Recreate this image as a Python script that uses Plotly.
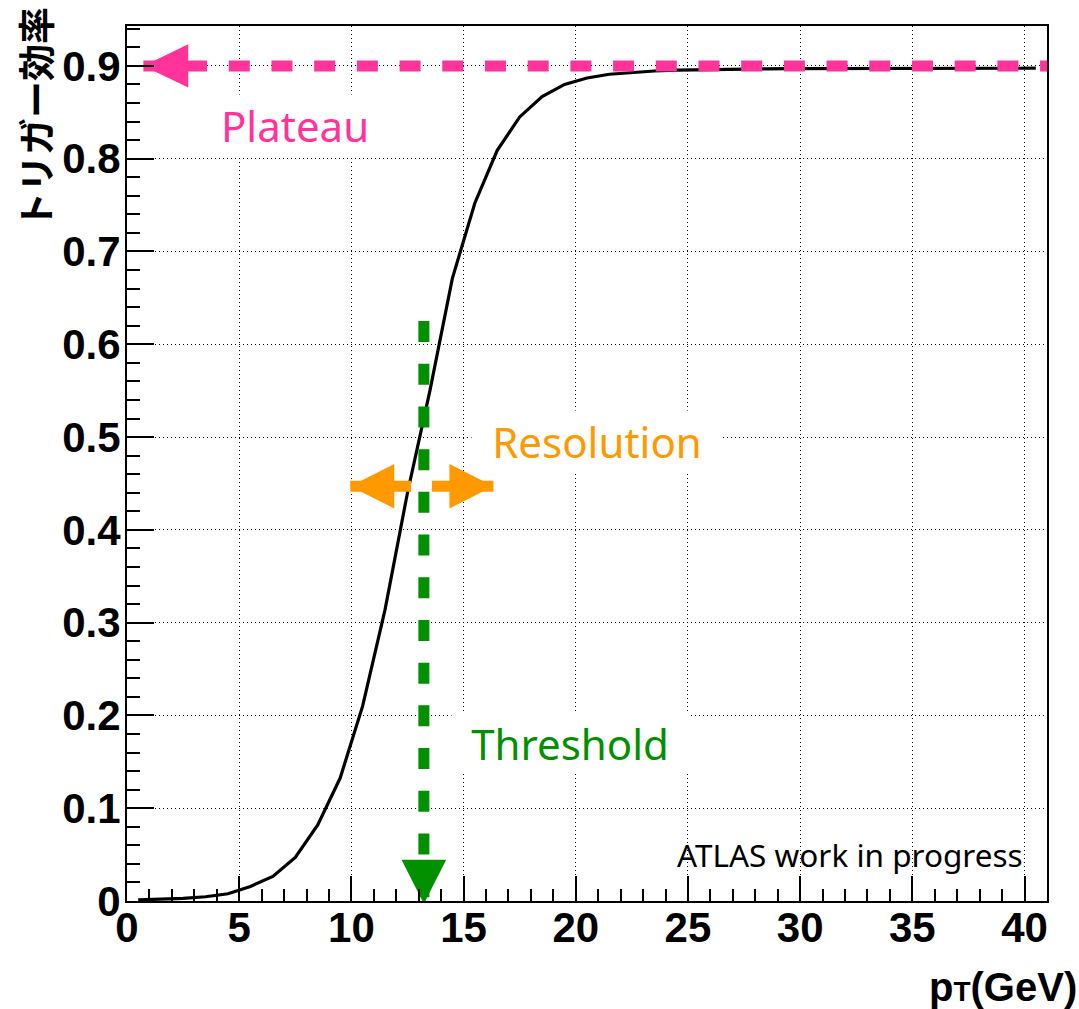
import plotly.graph_objects as go

# ---- data ----
pt = [0.5 + i for i in range(41)]
eff = [0.0012, 0.0018, 0.0028, 0.0046, 0.0078, 0.0157, 0.0265, 0.047, 0.082, 0.1325,
       0.21, 0.314, 0.44, 0.55, 0.671, 0.752, 0.809, 0.845, 0.867, 0.880,
       0.887, 0.891, 0.893, 0.8945, 0.8955, 0.896, 0.8963, 0.8966, 0.8968, 0.897,
       0.897, 0.8971, 0.8972, 0.8972, 0.8973, 0.8973, 0.8974, 0.8974, 0.8975, 0.8975, 0.8975]

x_ticks = [0, 5, 10, 15, 20, 25, 30, 35, 40]
y_ticks = [0, 0.1, 0.2, 0.3, 0.4, 0.5, 0.6, 0.7, 0.8, 0.9]

plateau_eff = 0.9
plateau_x = [0.73, 41.0]          # arrow tip -> right edge
threshold_pt = 13.23
threshold_eff = [0.625, 0.0]      # dashed line top -> arrow tip
resolution_eff = 0.447
resolution_left = [9.95, 12.66]   # tip -> shaft end
resolution_right = [16.33, 13.59] # tip -> shaft end

PINK = "#ff3399"
GREEN = "#009000"
ORANGE = "#ff9900"

fig = go.Figure()

# efficiency curve
fig.add_trace(go.Scatter(x=pt, y=eff, mode="lines",
                         line=dict(color="black", width=3.2), hoverinfo="skip"))

# --- plateau arrow (dashed, head on the left) ---
fig.add_trace(go.Scatter(x=plateau_x, y=[plateau_eff, plateau_eff], mode="lines",
                         line=dict(color=PINK, width=11, dash="21px,21.7px")))
hl_x, hh_y = 2.0, 0.0234
tip = plateau_x[0]
fig.add_trace(go.Scatter(x=[tip, tip + hl_x, tip + hl_x, tip],
                         y=[plateau_eff, plateau_eff + hh_y, plateau_eff - hh_y, plateau_eff],
                         mode="lines", fill="toself", fillcolor=PINK, line=dict(width=0, color=PINK)))

# --- threshold arrow (dashed, head at bottom) ---
fig.add_trace(go.Scatter(x=[threshold_pt, threshold_pt], y=threshold_eff, mode="lines",
                         line=dict(color=GREEN, width=11, dash="21px,21.7px")))
hw_x, hl_y = 0.995, 0.0474
ttip = threshold_eff[1] - 0.003
fig.add_trace(go.Scatter(x=[threshold_pt, threshold_pt - hw_x, threshold_pt + hw_x, threshold_pt],
                         y=[ttip, ttip + hl_y, ttip + hl_y, ttip],
                         mode="lines", fill="toself", fillcolor=GREEN, line=dict(width=0, color=GREEN)))

# --- resolution double arrow ---
rl_x, rh_y = 1.96, 0.024
for seg, sgn in ((resolution_left, 1), (resolution_right, -1)):
    fig.add_trace(go.Scatter(x=seg, y=[resolution_eff, resolution_eff], mode="lines",
                             line=dict(color=ORANGE, width=11)))
    t = seg[0]
    fig.add_trace(go.Scatter(x=[t, t + sgn * rl_x, t + sgn * rl_x, t],
                             y=[resolution_eff, resolution_eff + rh_y, resolution_eff - rh_y, resolution_eff],
                             mode="lines", fill="toself", fillcolor=ORANGE,
                             line=dict(width=0, color=ORANGE)))

label_font = "Noto Sans, Open Sans, sans-serif"
annotations = [
    dict(x=7.5, y=0.836, xref="x", yref="y", text="Plateau", showarrow=False,
         font=dict(family=label_font, size=42, color=PINK), bgcolor="white",
         width=186, height=60, borderpad=0),
    dict(x=20.94, y=0.496, xref="x", yref="y", text="Resolution", showarrow=False,
         font=dict(family=label_font, size=42, color=ORANGE), bgcolor="white",
         width=250, height=60, borderpad=0),
    dict(x=19.75, y=0.1705, xref="x", yref="y", text="Threshold", showarrow=False,
         font=dict(family=label_font, size=42, color=GREEN), bgcolor="white",
         width=236, height=60, borderpad=0),
    dict(x=40.0, y=0.05, xref="x", yref="y", xanchor="right", yanchor="middle",
         text="ATLAS work in progress", showarrow=False,
         font=dict(family=label_font, size=31.5, color="black")),
    # axis titles
    dict(x=1.035, y=-0.098, xref="paper", yref="paper", xanchor="right", yanchor="middle",
         text="p<span style='font-size:28px'>T</span>(GeV)", showarrow=False,
         font=dict(family="Liberation Sans, Arial, sans-serif", size=40, color="black", weight="bold")),
    dict(x=-0.1, y=1.024, xref="paper", yref="paper", xanchor="center", yanchor="top",
         text="トリガー効率", textangle=-90, showarrow=False,
         font=dict(family="Noto Sans CJK JP", size=37, color="black", weight="bold")),
]

tickfont = dict(family="Liberation Sans, Arial, sans-serif", size=42, color="black", weight="bold")
common = dict(showgrid=True, gridcolor="black", gridwidth=1, griddash="1px,3px",
              showline=True, linecolor="black", linewidth=2, mirror=True,
              zeroline=False, ticks="inside", tickcolor="black", tickwidth=1.5,
              tickfont=tickfont)

fig.update_layout(
    width=1079, height=1009,
    margin=dict(l=127, r=32, t=26, b=108),
    paper_bgcolor="white", plot_bgcolor="white",
    showlegend=False,
    annotations=annotations,
    xaxis=dict(range=[0, 41], tickvals=x_ticks, ticklen=25, ticklabelstandoff=-11,
               minor=dict(dtick=1, tick0=0, ticks="inside", ticklen=12, tickwidth=1.5,
                          tickcolor="black", showgrid=False),
               **common),
    yaxis=dict(range=[0, 0.943], tickvals=y_ticks, ticktext=["0"] + [f"{v:.1f}" for v in y_ticks[1:]],
               ticklen=27, ticklabelstandoff=-4,
               minor=dict(dtick=0.02, tick0=0, ticks="inside", ticklen=13, tickwidth=1.5,
                          tickcolor="black", showgrid=False),
               **common),
)

fig.write_html("out.html")
